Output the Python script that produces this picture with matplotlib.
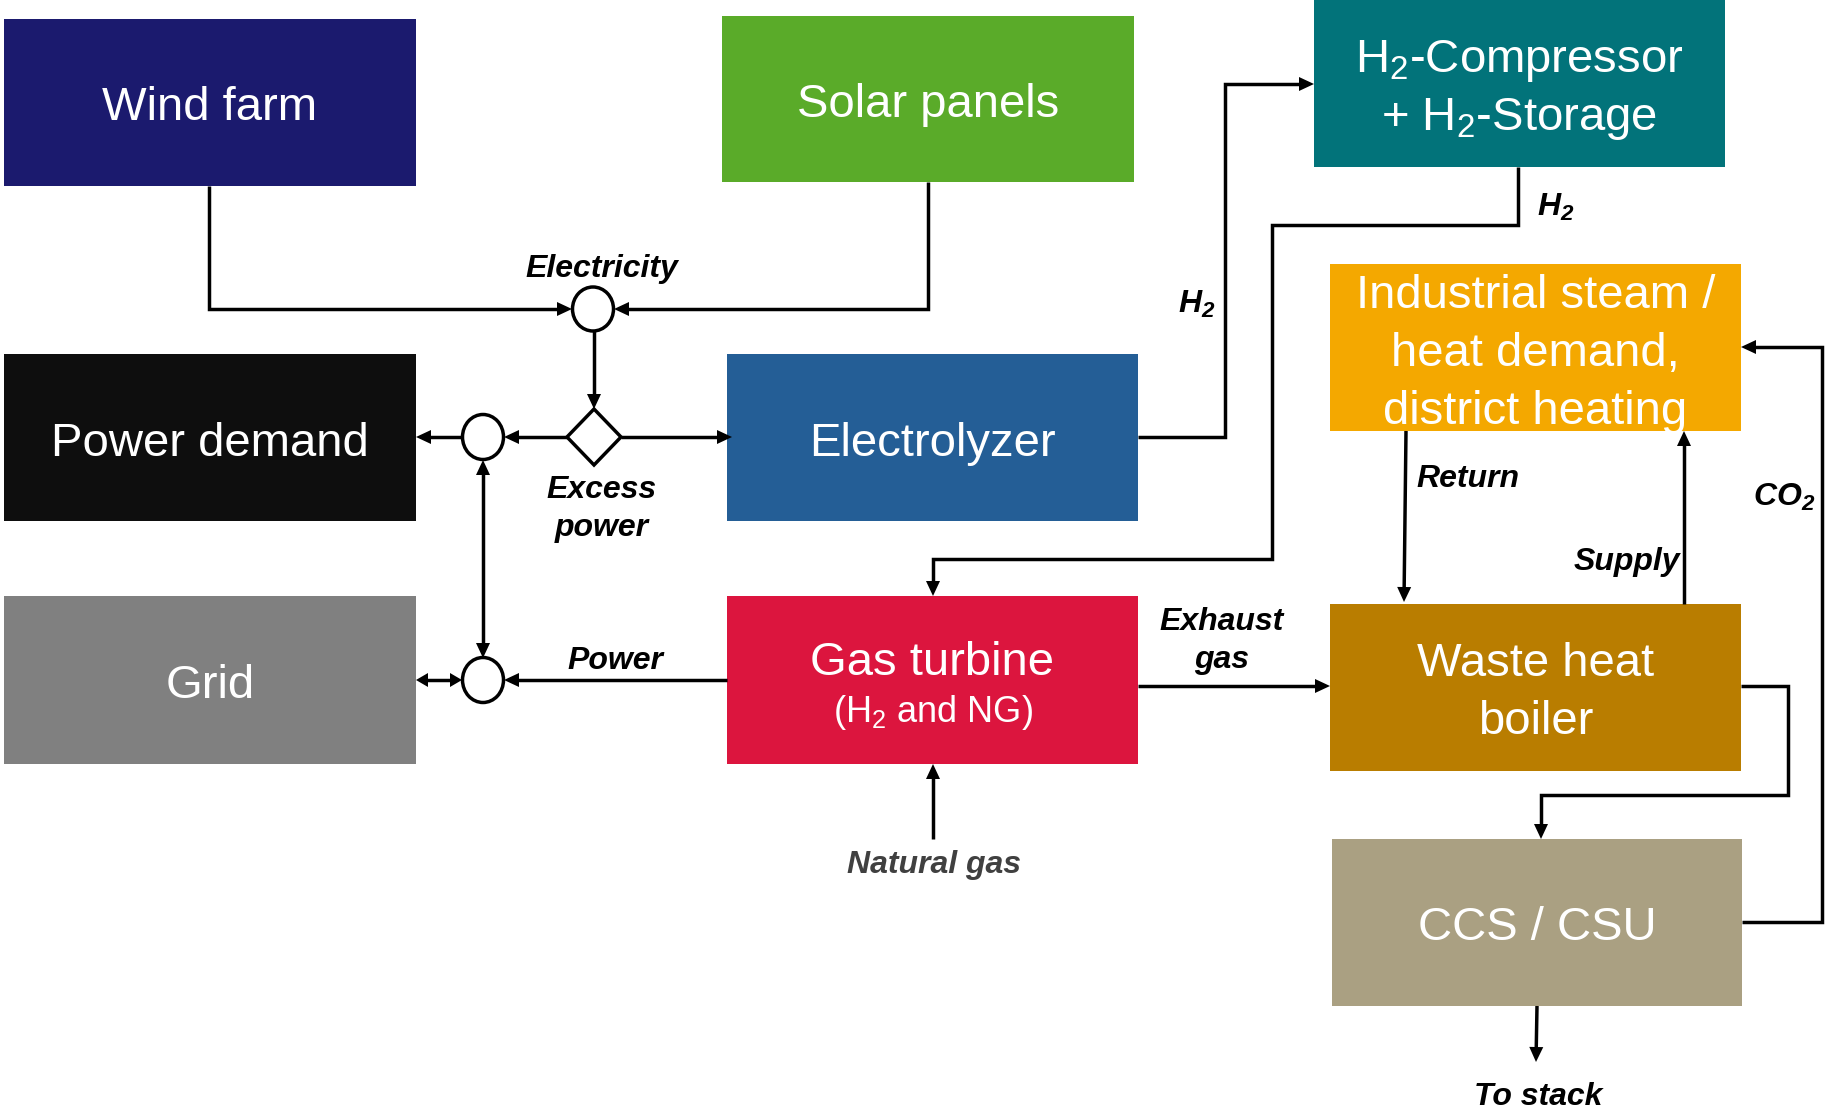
import numpy as np
import matplotlib
matplotlib.use('Agg')
import matplotlib.pyplot as plt
from matplotlib.patches import Rectangle, Ellipse, Polygon

plt.rcParams['font.family'] = ['Liberation Sans', 'DejaVu Sans']
plt.rcParams['mathtext.fontset'] = 'custom'
plt.rcParams['mathtext.rm'] = 'Liberation Sans'
plt.rcParams['mathtext.it'] = 'Liberation Sans:italic'
plt.rcParams['mathtext.bf'] = 'Liberation Sans:bold'
plt.rcParams['mathtext.bfit'] = 'Liberation Sans:italic:bold'

# Blocks of the diagram
box_names = ['wind', 'solar', 'compressor', 'demand', 'electrolyzer',
             'steam', 'grid', 'turbine', 'boiler', 'ccs']
box_lines = [
    ['Wind farm'],
    ['Solar panels'],
    ['H$_2$-Compressor', '+ H$_2$-Storage'],
    ['Power demand'],
    ['Electrolyzer'],
    ['Industrial steam /', 'heat demand,', 'district heating'],
    ['Grid'],
    ['Gas turbine', '(H$_2$ and NG)'],
    ['Waste heat', 'boiler'],
    ['CCS / CSU'],
]
box_colors = ['#1b1a6e', '#5aab29', '#02737a', '#0e0e0e', '#245e96',
              '#f4a800', '#808080', '#dc153e', '#b97d00', '#aaa082']

# Flow labels
flow_labels = ['Electricity', 'H$_{\\mathbfit{2}}$', 'H$_{\\mathbfit{2}}$', 'Excess\npower',
               'Return', 'CO$_{\\mathbfit{2}}$', 'Supply', 'Exhaust\ngas', 'Power',
               'Natural gas', 'To stack']

# layout (pixels, y downward)
box_pos = {
    'wind': (4, 19, 416, 186),
    'solar': (722, 16, 1134, 182),
    'compressor': (1314, 0, 1725, 167),
    'demand': (4, 354, 416, 521),
    'electrolyzer': (727, 354, 1138, 521),
    'steam': (1330, 264, 1741, 431),
    'grid': (4, 596, 416, 764),
    'turbine': (727, 596, 1138, 764),
    'boiler': (1330, 604, 1741, 771),
    'ccs': (1332, 839, 1742, 1006),
}
label_pos = [(602, 269), (1197, 304), (1556, 207), (602, 509), (1468, 479),
             (1784, 497), (1627, 562), (1222, 641), (615, 661), (934, 865), (1538, 1097)]

fig = plt.figure(figsize=(18.25, 11.1), dpi=100)
ax = fig.add_axes([0, 0, 1, 1])
ax.set_xlim(0, 1825)
ax.set_ylim(1110, 0)
ax.axis('off')

LW = 2.5


def head(p0, p1, hl=15, hw=7):
    p0 = np.array(p0, float)
    p1 = np.array(p1, float)
    d = (p1 - p0) / np.linalg.norm(p1 - p0)
    n = np.array([-d[1], d[0]])
    base = p1 - d * hl
    ax.add_patch(Polygon([p1, base + n * hw, base - n * hw], closed=True,
                         color='black', zorder=4, lw=0))
    return base + d * 2


def flow(pts, end=True, start=False, hl=15, hw=7):
    pts = [np.array(p, float) for p in pts]
    if end:
        pts[-1] = head(pts[-2], pts[-1], hl, hw)
    if start:
        pts[0] = head(pts[1], pts[0], hl, hw)
    xs = [p[0] for p in pts]
    ys = [p[1] for p in pts]
    ax.plot(xs, ys, color='black', lw=LW, solid_capstyle='butt',
            solid_joinstyle='miter', zorder=2)


# boxes
for name, lines, col in zip(box_names, box_lines, box_colors):
    x0, y0, x1, y1 = box_pos[name]
    ax.add_patch(Rectangle((x0, y0), x1 - x0, y1 - y0, color=col, lw=0, zorder=1))
    cx = (x0 + x1) / 2
    cy = (y0 + y1) / 2
    if name == 'turbine':
        ax.text(cx, cy - 17, lines[0], color='white', fontsize=34, ha='center', va='center', zorder=5)
        ax.text(cx, cy + 33, lines[1], color='white', fontsize=26, ha='center', va='center', zorder=5)
        continue
    step = 58
    offs = (np.arange(len(lines)) - (len(lines) - 1) / 2) * step
    for ln, off in zip(lines, offs):
        ax.text(cx, cy + off + 6, ln, color='white', fontsize=34, ha='center', va='center', zorder=5)

# junctions
junctions = [(593, 309, 41, 44), (483, 437, 41, 45), (483, 680, 41, 45)]
for jx, jy, w, h in junctions:
    ax.add_patch(Ellipse((jx, jy), w, h, facecolor='white', edgecolor='black', lw=LW, zorder=3))
ax.add_patch(Polygon([(594, 409), (621, 437), (594, 465), (567, 437)], closed=True,
                     facecolor='white', edgecolor='black', lw=LW, zorder=3))

# flows
flow([(209, 186), (209, 309), (572, 309)])
flow([(928, 182), (928, 309), (614, 309)])
flow([(594, 331), (594, 409)])
flow([(567, 437), (504, 437)])
flow([(462, 437), (416, 437)])
flow([(621, 437), (732, 437)])
flow([(483, 460), (483, 658)], start=True)
flow([(416, 680), (462, 680)], start=True, hl=12, hw=7)
flow([(727, 680), (504, 680)])
flow([(1138, 437), (1225, 437), (1225, 84), (1314, 84)])
flow([(1518, 167), (1518, 225), (1272, 225), (1272, 559), (933, 559), (933, 596)])
flow([(1138, 686), (1330, 686)])
flow([(1406, 431), (1404, 602)])
flow([(1684, 604), (1684, 431)])
flow([(1741, 686), (1788, 686), (1788, 795), (1541, 795), (1541, 839)])
flow([(1742, 922), (1822, 922), (1822, 347), (1741, 347)])
flow([(1537, 1006), (1536, 1062)])
flow([(933, 839), (933, 764)])

for lab, (lx, ly) in zip(flow_labels, label_pos):
    col = '#404040' if lab == 'Natural gas' else 'black'
    ax.text(lx, ly, lab, fontsize=23, fontweight='bold', fontstyle='italic', color=col,
            ha='center', va='center', linespacing=1.38, zorder=5)

fig.savefig('out.png', dpi=100)
